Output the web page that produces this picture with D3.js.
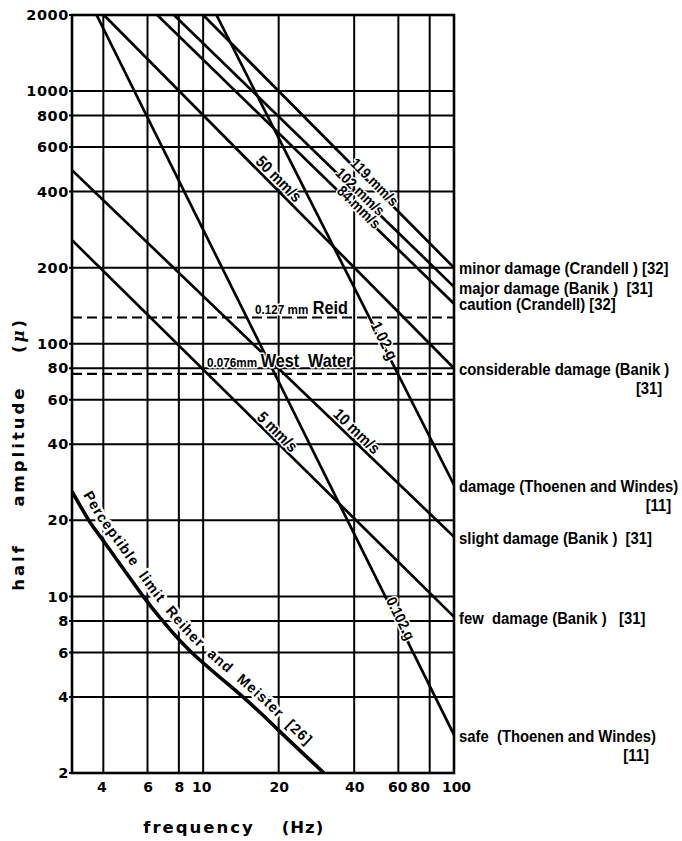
<!DOCTYPE html>
<html><head><meta charset="utf-8">
<script src="https://cdn.jsdelivr.net/npm/d3@7"></script>
<style>
html,body{margin:0;padding:0;background:#fff;}
svg{display:block;}
text{white-space:pre;}
</style>
</head><body>
<svg id="chart" width="682" height="841"></svg>
<script>
// Grid and tick values: frequency in Hz, half amplitude in micrometres
const freqGrid = [4, 6, 8, 10, 20, 40, 60, 80];
const freqTicks = [4, 6, 8, 10, 20, 40, 60, 80, 100];
const ampTicks = [2, 4, 6, 8, 10, 20, 40, 60, 80, 100, 200, 400, 600, 800, 1000, 2000];

// Straight criterion lines: name, [start, end] frequency, [start, end] amplitude
const criteriaLabels = ["119 mm/s", "102 mm/s", "84 mm/s", "50 mm/s", "10 mm/s", "5 mm/s", "1.02 g", "0.102 g"];
const criteriaFreq = [[10, 100], [7.65, 100], [6.56, 100], [4.02, 100], [3, 100], [3, 100], [11.3, 100], [3.76, 100]];
const criteriaAmp = [[2000, 200], [2000, 168], [2000, 144], [2000, 80], [486, 17.2], [257, 8.3], [2000, 27.6], [2000, 2.83]];

// Damage class named where each criterion line leaves the chart (same order)
const damageClasses = [
  ["minor damage (Crandell ) [32]"],
  ["major damage (Banik )  [31]"],
  ["caution (Crandell) [32]"],
  ["considerable damage (Banik )", "[31]"],
  ["slight damage (Banik )  [31]"],
  ["few  damage (Banik )   [31]"],
  ["damage (Thoenen and Windes)", "[11]"],
  ["safe  (Thoenen and Windes)", "[11]"]
];

// Perceptible limit after Reiher and Meister
const perceptFreq = [3, 3.5, 4, 5.77, 6.9, 9, 14.4, 20, 30.3];
const perceptAmp = [26, 20, 16.6, 10, 8, 6, 4, 2.95, 2];
const perceptLabel = "Perceptible  limit  Reiher  and  Meister  [26]";

// Horizontal reference amplitudes
const refSmall = ["0.127 mm", "0.076mm"];
const refBig = ["Reid", "West  Water"];
const refAmp = [127, 76];

const svg = d3.select("#chart");
const x = d3.scaleLog().domain([3, 100]).range([72, 454]);
const y = d3.scaleLog().domain([2, 2000]).range([773, 15]);
const [x0, x1] = x.range();
const [yb, yt] = y.range();

const tickFont = "'DejaVu Sans', sans-serif";
const labelFont = "'Liberation Sans', Arial, sans-serif";
const squeeze = 0.9;
const sideSqueeze = 0.9;

svg.append("defs").append("clipPath").attr("id", "plot")
  .append("rect").attr("x", x0).attr("y", yt).attr("width", x1 - x0).attr("height", yb - yt);

// grid
const grid = svg.append("g").attr("stroke", "#000").attr("stroke-width", 2);
grid.selectAll("line.h").data(ampTicks).join("line").attr("class", "h")
  .attr("x1", x0 - 3).attr("x2", x1).attr("y1", d => y(d)).attr("y2", d => y(d));
grid.selectAll("line.v").data(freqGrid).join("line").attr("class", "v")
  .attr("x1", d => x(d)).attr("x2", d => x(d)).attr("y1", yt).attr("y2", yb);

// tick labels
const yAxis = d3.axisLeft(y).tickValues(ampTicks).tickFormat(d3.format("d")).tickSize(0).tickPadding(3);
const gy = svg.append("g").attr("transform", `translate(${x0},0)`).call(yAxis);
gy.select(".domain").remove();
gy.selectAll("text").attr("font-family", tickFont).attr("font-weight", "bold")
  .attr("font-size", 14.5).attr("letter-spacing", "0.6px").attr("fill", "#000");

const xNudge = {4: -2, 10: -2, 60: -1, 80: -10, 100: 2};
const xAxis = d3.axisBottom(x).tickValues(freqTicks).tickFormat(d3.format("d")).tickSize(0).tickPadding(9);
const gx = svg.append("g").attr("transform", `translate(0,${yb})`).call(xAxis);
gx.select(".domain").remove();
gx.selectAll(".tick text").attr("font-family", tickFont).attr("font-weight", "bold")
  .attr("font-size", 14).attr("fill", "#000")
  .attr("dx", d => xNudge[d] || 0);

// dashed reference amplitudes
const plot = svg.append("g").attr("clip-path", "url(#plot)");
plot.selectAll("line.ref").data(refAmp).join("line").attr("class", "ref")
  .attr("x1", x0).attr("x2", x1).attr("y1", d => y(d)).attr("y2", d => y(d))
  .attr("stroke", "#000").attr("stroke-width", 2.2).attr("stroke-dasharray", "10,5");

// criterion lines
const crit = criteriaLabels.map((name, i) => ({name, f: criteriaFreq[i], a: criteriaAmp[i], cls: damageClasses[i]}));
plot.selectAll("line.crit").data(crit).join("line").attr("class", "crit")
  .attr("x1", d => x(d.f[0])).attr("y1", d => y(d.a[0]))
  .attr("x2", d => x(d.f[1])).attr("y2", d => y(d.a[1]))
  .attr("stroke", "#000").attr("stroke-width", 2.7);

// perceptible limit curve
const perceptPts = perceptFreq.map((f, i) => [x(f), y(perceptAmp[i])]);
const curveGen = d3.line().curve(d3.curveNatural);
plot.append("path").attr("d", curveGen(perceptPts))
  .attr("fill", "none").attr("stroke", "#000").attr("stroke-width", 3.6);

// frame
svg.append("rect").attr("x", x0).attr("y", yt).attr("width", x1 - x0).attr("height", yb - yt)
  .attr("fill", "none").attr("stroke", "#000").attr("stroke-width", 2.6);

// labels placed along the criterion lines
const labelPlace = {
  "119 mm/s": {f: 47, off: 4, size: 15},
  "102 mm/s": {f: 41.5, off: 3, size: 15},
  "84 mm/s": {f: 41, off: 3, size: 15},
  "50 mm/s": {f: 18.9, off: 9, size: 16},
  "10 mm/s": {f: 38.7, off: 9, size: 16},
  "5 mm/s": {f: 18.8, off: 8, size: 16},
  "1.02 g": {f: 51.5, off: 3, size: 16},
  "0.102 g": {f: 59.3, off: 4, size: 15}
};
const halo = sel => sel.attr("stroke", "#fff").attr("stroke-linejoin", "round").attr("paint-order", "stroke");

crit.forEach(d => {
  const p = labelPlace[d.name];
  const lf = Math.log(p.f), lf0 = Math.log(d.f[0]), lf1 = Math.log(d.f[1]);
  const t = (lf - lf0) / (lf1 - lf0);
  const amp = Math.exp(Math.log(d.a[0]) + t * (Math.log(d.a[1]) - Math.log(d.a[0])));
  const px = x(p.f), py = y(amp);
  const ang = Math.atan2(y(d.a[1]) - y(d.a[0]), x(d.f[1]) - x(d.f[0]));
  const cx = px + p.off * Math.sin(ang), cy = py - p.off * Math.cos(ang);
  svg.append("text").attr("transform", `translate(${cx},${cy}) rotate(${ang * 180 / Math.PI}) scale(${squeeze},1)`)
    .attr("text-anchor", "middle").attr("dy", "0.35em")
    .attr("font-family", labelFont).attr("font-weight", "bold").attr("font-size", p.size)
    .attr("stroke-width", 3).call(halo).text(d.name);
});

// perceptible limit label following the curve, slightly above it
const offPts = perceptPts.map((pt, i) => {
  const a = perceptPts[Math.max(0, i - 1)], b = perceptPts[Math.min(perceptPts.length - 1, i + 1)];
  const dx = b[0] - a[0], dy = b[1] - a[1], len = Math.hypot(dx, dy);
  return [pt[0] + 8 * dy / len, pt[1] - 8 * dx / len];
});
svg.append("path").attr("id", "perceptPath").attr("d", curveGen(offPts)).attr("fill", "none");
svg.append("text").attr("font-family", labelFont).attr("font-weight", "bold").attr("font-size", 14.5)
  .attr("stroke-width", 5).call(halo)
  .append("textPath").attr("href", "#perceptPath").attr("startOffset", 8)
  .attr("textLength", 338).attr("lengthAdjust", "spacing").text(perceptLabel);

// dashed line captions
const refX = [255, 207];
refAmp.forEach((a, i) => {
  const t = svg.append("text").attr("transform", `translate(${refX[i]},${y(a) - (i === 0 ? 3 : 7)}) scale(${squeeze},1)`)
    .attr("font-family", labelFont).attr("font-weight", "bold").attr("stroke-width", 3).call(halo);
  t.append("tspan").attr("font-size", 13).text(refSmall[i]);
  t.append("tspan").attr("font-size", 18).attr("dx", i === 0 ? 5 : 4).text(refBig[i]);
});

// damage class captions at the right edge
crit.forEach(d => {
  const yy = y(d.a[1]) + 1;
  const first = svg.append("text").attr("transform", `translate(459,${yy}) scale(${sideSqueeze},1)`).attr("dy", "0.35em")
    .attr("font-family", labelFont).attr("font-weight", "bold").attr("font-size", 16.5).text(d.cls[0]);
  if (d.cls[1]) {
    const w = first.node().getComputedTextLength() * sideSqueeze;
    svg.append("text").attr("transform", `translate(${459 + w - 7},${yy + 19}) scale(${sideSqueeze},1)`).attr("dy", "0.35em")
      .attr("text-anchor", "end").attr("font-family", labelFont).attr("font-weight", "bold")
      .attr("font-size", 16.5).text(d.cls[1]);
  }
});

// axis titles
const yTitle = svg.append("g").attr("font-family", tickFont).attr("font-weight", "bold")
  .attr("font-size", 16.5).attr("letter-spacing", "3px");
yTitle.append("text").attr("transform", "translate(24,567) rotate(-90)").attr("text-anchor", "middle").text("half");
yTitle.append("text").attr("transform", "translate(24,446) rotate(-90)").attr("text-anchor", "middle").text("amplitude");
const mu = yTitle.append("text").attr("transform", "translate(24,335) rotate(-90)").attr("text-anchor", "middle");
mu.append("tspan").text("(");
mu.append("tspan").attr("font-style", "italic").attr("font-family", "'DejaVu Serif', serif").text("μ");
mu.append("tspan").text(")");

svg.append("text").attr("x", 199).attr("y", 833).attr("text-anchor", "middle")
  .attr("font-family", tickFont).attr("font-weight", "bold").attr("font-size", 16.5)
  .attr("letter-spacing", "2px").text("frequency");
svg.append("text").attr("x", 303).attr("y", 833).attr("text-anchor", "middle")
  .attr("font-family", tickFont).attr("font-weight", "bold").attr("font-size", 16.5)
  .attr("letter-spacing", "1px").text("(Hz)");
</script>
</body></html>
